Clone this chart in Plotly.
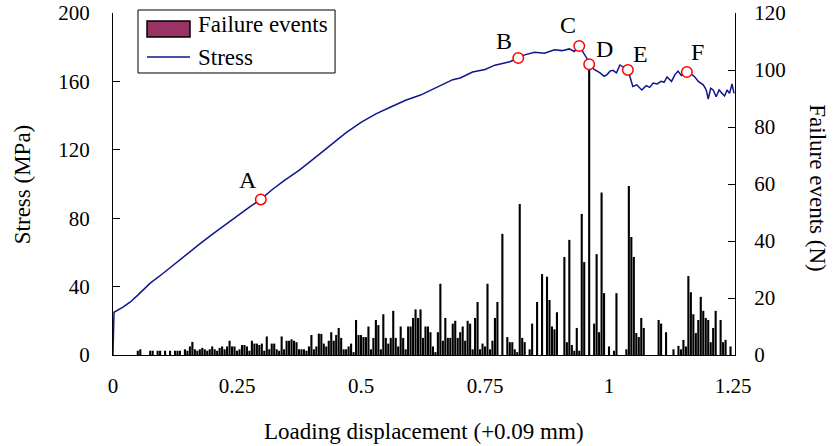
import plotly.graph_objects as go

# ---------------- data ----------------
bar_step = 0.005
failure_events = [
    0, 0, 0, 0, 0, 0, 0, 0, 0, 0,
    1.5, 2, 0, 0, 0, 1.5, 1.5, 0, 1.5, 1.5,
    0, 1.5, 0, 1.5, 0, 1.5, 1.5, 1.5, 0, 2,
    1.5, 3, 4.6, 2, 1.5, 2, 2.5, 2, 1.5, 2,
    3, 2, 1.5, 2.5, 3, 2, 3, 5, 3, 3,
    1.5, 2, 3.5, 3.5, 3, 1.5, 5, 4, 4, 3.5,
    4, 1.5, 6.5, 2, 4, 4, 2, 1.5, 6.5, 2,
    5, 5, 5.5, 5, 4.5, 2, 2, 2, 1.5, 3,
    7, 2, 3, 7.5, 7.4, 4, 3, 5, 8, 5,
    7, 9.5, 6, 2, 2, 3, 4, 1, 12.3, 7,
    7, 6.3, 6.3, 10, 2, 6, 12.3, 10.5, 2, 14.3,
    6, 4, 6, 15.5, 6, 3, 10, 6, 2, 10,
    10, 13, 16, 13, 16, 6, 10, 10, 8, 3,
    1, 8, 25, 5, 13, 6, 6, 11, 12, 6,
    8, 10, 5, 12, 11, 2, 13, 18.6, 2, 4,
    3, 25, 2, 5, 13, 18.6, 0, 42.5, 0, 6.3,
    4.5, 4.5, 2, 1, 53, 6, 4.5, 0, 2, 11,
    0, 18.6, 0, 28.4, 0, 27.5, 19.3, 10, 9, 15,
    0, 0, 34.4, 4.5, 40.4, 3.5, 1.5, 9.5, 1.5, 49.5,
    32.6, 0, 102, 0, 11, 35.4, 8, 57, 21.7, 0,
    3, 0, 1.5, 21.7, 0, 0, 0, 2, 59.3, 41.4,
    34.4, 7.7, 6.3, 13, 9.5, 0, 0, 0, 0, 0,
    12.3, 11, 0, 8, 0, 0, 2, 0, 3.2, 2,
    5.3, 3, 27.7, 22, 14.3, 7.7, 12.3, 20.4, 15.5, 13,
    12.3, 4.5, 9.5, 15.5, 0, 12.3, 4.5, 5.3, 0, 3,
    0,
]
bar_x = [round(i * bar_step, 4) for i in range(len(failure_events))]

stress_x = [0, 0.002, 0.02, 0.035, 0.05, 0.075, 0.1, 0.125, 0.15, 0.175,
            0.2, 0.225, 0.25, 0.275, 0.298, 0.32, 0.345, 0.375, 0.41, 0.44,
            0.47, 0.5, 0.53, 0.56, 0.59, 0.62, 0.65, 0.685, 0.7, 0.725,
            0.75, 0.77, 0.785, 0.8, 0.817, 0.83, 0.85, 0.87, 0.89, 0.905,
            0.92, 0.93, 0.94, 0.948, 0.955, 0.96, 0.97, 0.982, 0.99, 0.996,
            1.002, 1.008, 1.015, 1.022, 1.032, 1.038, 1.043, 1.048, 1.056, 1.066,
            1.075, 1.082, 1.089, 1.097, 1.105, 1.111, 1.117, 1.126, 1.133, 1.139,
            1.146, 1.157, 1.165, 1.173, 1.18, 1.19, 1.196, 1.2, 1.205, 1.21,
            1.216, 1.222, 1.228, 1.233, 1.238, 1.243, 1.248, 1.252]
stress_y = [0, 25, 28, 31, 35, 42, 47.5, 53.5, 59, 65,
            70.5, 76, 81, 86.5, 91, 96.5, 102, 108, 116, 123,
            130, 136, 141, 145, 149, 152, 156, 161, 162, 165.5,
            167, 169.5, 170.5, 171.5, 173.7, 175.5, 177, 176.5, 178.5, 178,
            179, 177.5, 180.7, 176.6, 173.7, 170, 167, 165, 163, 164,
            166, 166.5, 165, 169.6, 168, 166.7, 162, 157, 158, 155,
            157.5, 156.5, 159, 158.5, 160, 159.5, 162.6, 160, 164, 166,
            163.5, 165.5, 164.5, 162.6, 160, 158, 155, 149.7, 156, 155,
            151, 155, 153, 151.5, 155, 153, 158.5, 153]

point_labels = ["A", "B", "C", "D", "E", "F"]
point_x = [0.298, 0.817, 0.94, 0.96, 1.038, 1.157]
point_y = [91, 173.7, 180.7, 170, 166.7, 165.5]
label_shift_x = [-13, -14, -11, 15, 13, 11]
label_shift_y = [19, 17, 21, 15, 16, 20]

x_ticks = [0, 0.25, 0.5, 0.75, 1, 1.25]
x_tick_text = ["0", "0.25", "0.5", "0.75", "1", "1.25"]
stress_ticks = [0, 40, 80, 120, 160, 200]
event_ticks = [0, 20, 40, 60, 80, 100, 120]

FONT = "Liberation Serif, Times New Roman, serif"
NAVY = "#0f168c"

fig = go.Figure()
fig.add_trace(go.Bar(x=bar_x, y=failure_events, yaxis="y",
                     marker=dict(color="black", line=dict(width=0)),
                     showlegend=False, name="Failure events"))
fig.add_trace(go.Scatter(x=stress_x, y=stress_y, yaxis="y2", mode="lines",
                         line=dict(color=NAVY, width=1.5), showlegend=False,
                         name="Stress"))
fig.add_trace(go.Scatter(x=point_x, y=point_y, yaxis="y2", mode="markers",
                         marker=dict(symbol="circle", size=10.5, color="white",
                                     line=dict(color="red", width=1.5)),
                         showlegend=False))

annotations = []
for lab, px, py, sx, sy in zip(point_labels, point_x, point_y, label_shift_x, label_shift_y):
    annotations.append(dict(x=px, y=py, xref="x", yref="y2", text=lab, showarrow=False,
                            xshift=sx, yshift=sy, font=dict(family=FONT, size=24, color="black")))

# axis titles
annotations.append(dict(x=0.5, y=-0.225, xref="paper", yref="paper", showarrow=False,
                        text="Loading displacement (+0.09 mm)", xanchor="center", yanchor="middle",
                        font=dict(family=FONT, size=23, color="black")))
annotations.append(dict(x=-0.146, y=0.497, xref="paper", yref="paper", showarrow=False,
                        text="Stress (MPa)", textangle=-90, xanchor="center", yanchor="middle",
                        font=dict(family=FONT, size=23, color="black")))
annotations.append(dict(x=1.132, y=0.49, xref="paper", yref="paper", showarrow=False,
                        text="Failure events (N)", textangle=90, xanchor="center", yanchor="middle",
                        font=dict(family=FONT, size=23, color="black")))

# custom legend
annotations.append(dict(x=0.1334, y=0.965, xref="paper", yref="paper", showarrow=False,
                        text="Failure events", xanchor="left", yanchor="middle",
                        font=dict(family=FONT, size=23, color="black")))
annotations.append(dict(x=0.1334, y=0.871, xref="paper", yref="paper", showarrow=False,
                        text="Stress", xanchor="left", yanchor="middle",
                        font=dict(family=FONT, size=23, color="black")))

shapes = [
    dict(type="rect", xref="paper", yref="paper", x0=0.0402, x1=0.357, y0=0.8246, y1=1.0088,
         line=dict(color="black", width=1), fillcolor="white", layer="above"),
    dict(type="rect", xref="paper", yref="paper", x0=0.0547, x1=0.1238, y0=0.9298, y1=0.9766,
         line=dict(color="black", width=1.5), fillcolor="#993366", layer="above"),
    dict(type="line", xref="paper", yref="paper", x0=0.0547, x1=0.1238, y0=0.871, y1=0.871,
         line=dict(color=NAVY, width=1.5), layer="above"),
]

fig.update_layout(
    width=834, height=446,
    margin=dict(l=113, r=99, t=13, b=91, pad=0, autoexpand=False),
    paper_bgcolor="white", plot_bgcolor="white",
    bargap=0.15,
    font=dict(family=FONT, size=21, color="black"),
    xaxis=dict(range=[0, 1.254], tickvals=x_ticks, ticktext=x_tick_text,
               showline=True, linecolor="black", linewidth=1, ticks="",
               showgrid=False, zeroline=False, ticklabelstandoff=12, automargin=False,
               tickfont=dict(family=FONT, size=21, color="black")),
    yaxis=dict(range=[0, 120], side="right", tickvals=event_ticks,
               showline=True, linecolor="black", linewidth=1,
               ticks="inside", ticklen=7, tickcolor="black", automargin=False,
               showgrid=False, zeroline=False, ticklabelstandoff=14,
               tickfont=dict(family=FONT, size=21, color="black")),
    yaxis2=dict(range=[0, 200], side="left", overlaying="y", tickvals=stress_ticks,
                showline=True, linecolor="black", linewidth=1,
                ticks="inside", ticklen=7, tickcolor="black", automargin=False,
                showgrid=False, zeroline=False, ticklabelstandoff=18,
                tickfont=dict(family=FONT, size=21, color="black")),
    annotations=annotations,
    shapes=shapes,
    showlegend=False,
)

fig.write_html("out.html")
